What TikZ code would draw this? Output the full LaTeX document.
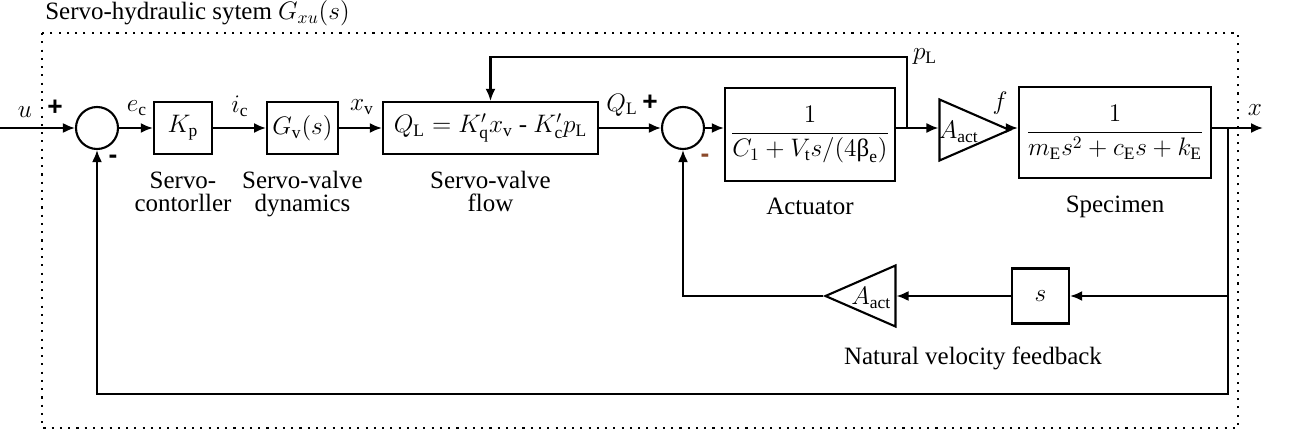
\documentclass[tikz,border=0pt]{standalone}
\usepackage{amsmath}
\usepackage{fontspec}
\setmainfont{Liberation Serif}[Ligatures=TeX]
\setsansfont{Liberation Sans}
\usepackage{xcolor}
\usepackage{tikz}
\usetikzlibrary{arrows.meta,positioning,shapes.geometric,calc}
\definecolor{signbrown}{HTML}{8B4A2B}
\tikzset{
  blk/.style={draw,line width=1.3pt,minimum height=1.04cm,inner sep=3pt},
  sumnode/.style={draw,circle,line width=1.2pt,minimum size=0.84cm,inner sep=0pt},
  gainf/.style={draw,isosceles triangle,isosceles triangle stretches,line width=1.2pt,minimum width=1.22cm,minimum height=1.4cm,inner sep=0pt},
  gainb/.style={gainf,shape border rotate=180},
  sig/.style={-{Latex[length=2.4mm,width=2mm]},line width=1.15pt},
  sign/.style={font=\fontsize{15}{15}\selectfont\sffamily\bfseries,inner sep=0pt},
  caption/.style={align=center,inner sep=0pt},
  frame/.style={line width=1.2pt,dash pattern=on 1.2pt off 3.5pt}
}
\begin{document}
\begin{tikzpicture}[font=\fontsize{14.2}{13.1}\selectfont]
  \useasboundingbox (0,-6.1) rectangle (25.8,2.56);
  \node[anchor=base west,inner sep=0pt] (title) at (0.9,2.17) {Servo-hydraulic sytem $G_{xu}(s)$};
  \draw[frame] (0.84,1.9) rectangle (24.76,-6.0);
  % forward path
  \coordinate (uin) at (0,0);
  \node[sumnode] (sum1) at (1.94,0) {};
  \node[blk,minimum width=1.16cm] (kp) at (3.66,0) {$K_{\mathrm p}$};
  \node[blk,minimum width=1.38cm] (gv) at (6.05,0) {$G_{\mathrm v}(s)$};
  \node[blk,minimum width=4.3cm] (ql) at (9.81,0) {$Q_{\mathrm L} = K'_{\mathrm q}x_{\mathrm v}$ - $K'_{\mathrm c}p_{\mathrm L}$};
  \node[sumnode] (sum2) at (13.66,0) {};
  \node[blk,minimum width=3.28cm,minimum height=1.86cm] (act) at (16.2,-0.13)
    {$\dfrac{1}{C_1 + V_{\mathrm t}s/(4\text{β}_{\mathrm e})}$};
  \node[gainf] (gf) at (19.19,-0.04) {};
  \node[anchor=west,inner sep=0pt] (gf-txt) at ([yshift=-0.04cm]gf.lower side) {$A_{\mathrm{act}}$};
  \node[blk,minimum width=3.84cm,minimum height=1.82cm] (spec) at (22.3,-0.09)
    {$\dfrac{1}{m_{\mathrm E}s^2 + c_{\mathrm E}s + k_{\mathrm E}}$};
  \coordinate (pl) at (18.14,0);
  \coordinate (pltop) at (18.14,1.42);
  \coordinate (br) at (24.56,0);
  \coordinate (bot) at (24.56,-5.32);
  \coordinate (xout) at (25.26,0);
  % velocity feedback
  \node[blk,minimum width=1.14cm,minimum height=1.1cm] (sblk) at (20.81,-3.36) {$s$};
  \node[gainb] (gb) at (17.51,-3.36) {};
  \node[anchor=east,inner sep=0pt] (gb-txt) at ([xshift=-0.1cm,yshift=-0.04cm]gb.lower side) {$A_{\mathrm{act}}$};
  % connectors
  \draw[sig] (uin) -- (sum1);
  \draw[sig] (sum1) -- (kp);
  \draw[sig] (kp) -- (gv);
  \draw[sig] (gv) -- (ql);
  \draw[sig] (ql) -- (sum2);
  \draw[sig] (sum2.east) -- (sum2.east -| act.west);
  \draw[sig] (act.east |- sum2) -- (sum2 -| gf.lower side);
  \draw[sig] (sum2 -| gf.apex) -- (sum2 -| spec.west);
  \draw[sig] (spec.east |- sum2) -- (xout);
  \draw[sig] (pl) -- (pltop) -| (ql);
  \draw[sig] (br) |- (sblk);
  \draw[sig] (sblk) -- (gb);
  \draw[sig] (gb.apex) -| (sum2);
  \draw[sig] (br) -- (bot) -| (sum1);
  % signal names and signs
  \foreach \n/\x/\y/\txt in {u/0.5/0.32/u, ec/2.74/0.4/e_{\mathrm c}, ic/4.8/0.44/i_{\mathrm c},
      xv/7.24/0.42/x_{\mathrm v}, QL/12.44/0.46/Q_{\mathrm L}, pL/18.5/1.42/p_{\mathrm L},
      f/20.0/0.5/f, x/25.1/0.36/x}
    \node (lab-\n) at (\x,\y) {$\txt$};
  \foreach \n/\x/\y/\s/\c in {p1/1.1/0.4/+/black, m1/2.26/-0.62/-/black,
      p2/13.0/0.5/+/black, m2/14.1/-0.6/-/signbrown}
    \node[sign,text=\c] (sg-\n) at (\x,\y) {\s};
  % block names
  \node[caption,below=0.32cm of kp] (cap-kp) {Servo-\\contorller};
  \node[caption,below=0.32cm of gv] (cap-gv) {Servo-valve\\dynamics};
  \node[caption,below=0.32cm of ql] (cap-ql) {Servo-valve\\flow};
  \node[caption,below=0.32cm of act] (cap-act) {Actuator};
  \node[caption,below=0.32cm of spec] (cap-spec) {Specimen};
  \node[caption] (cap-nvf) at (19.46,-4.6) {Natural velocity feedback};
\end{tikzpicture}
\end{document}
